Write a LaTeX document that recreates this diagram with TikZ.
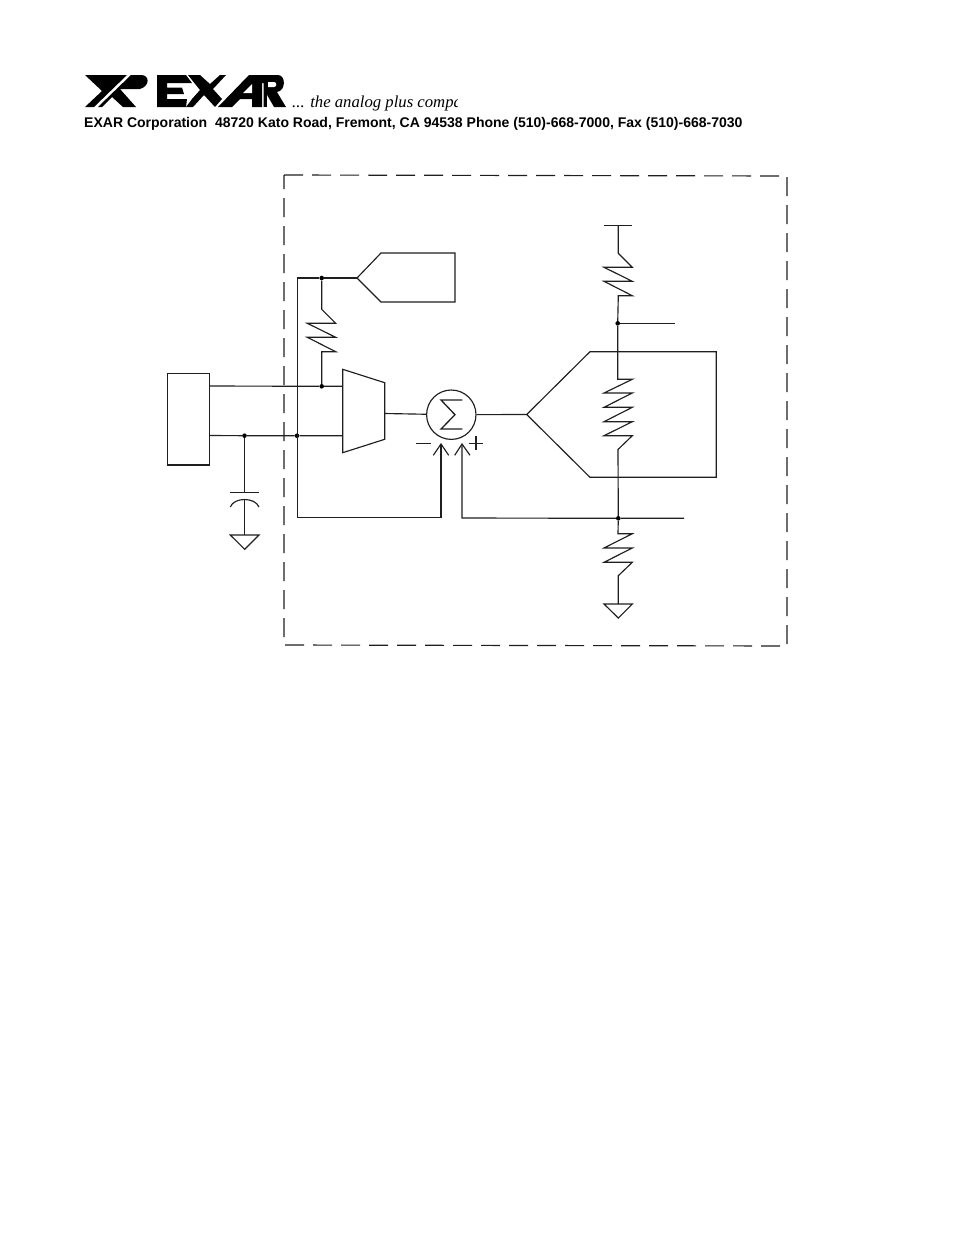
\documentclass[tikz,border=0pt]{standalone}
\usepackage{fontspec}
\setmainfont{Liberation Sans}
\newfontfamily\tagfont{Liberation Serif}
\tikzset{
  wire/.style={line width=1.15pt,black!88,line join=miter},
  dot/.style={circle,fill=black,inner sep=0pt,minimum size=4.6pt},
  logo/.style={fill=black,draw=none}
}
\begin{document}
\begin{tikzpicture}[x=1pt,y=-1pt]
\useasboundingbox (0,0) rectangle (954,1235);
% logo mark
\fill[logo] (85,75) -- (127,75) -- (94,107) -- (85,107) -- (102,91) -- cycle;
\fill[logo] (131,75) -- (141,75) .. controls (150,75) and (150,86) .. (140,89) -- (120,89) -- (136,107) -- (123,107) -- (112,97) -- (102,107) -- (98,107) -- cycle;
% E
\fill[logo] (157,75) -- (186,75) -- (192,83) -- (167,83) -- (167,87.5) -- (182,87.5) -- (184,94) -- (167,94) -- (167,99) -- (187,99) -- (186,107) -- (157,107) -- cycle;
% X
\fill[logo] (188,75) -- (200,75) -- (210,84) -- (220,75) -- (226,75) -- (213,89) -- (222,99) -- (215,107) -- (204,95) -- (193,107) -- (186,107) -- (192,99) -- (200,90) -- cycle;
% A
\fill[logo] (218,107) -- (249,75) -- (262,75) -- (262,107) -- (252,107) -- (252,99) -- (240,99) -- (232,107) -- cycle;
\fill[white] (243,93) -- (252,84) -- (252,93) -- cycle;
% R
\fill[logo] (258,75) -- (278,75) .. controls (286,75) and (286,91) .. (277,92) -- (286,107) -- (274,107) -- (266,93) -- (264,93) -- (264,107) -- (263.5,107) -- (263.5,83) -- (258,83) -- cycle;
\fill[logo] (264,82) rectangle (267,107);
\fill[white] (268,82) -- (274,82) .. controls (277,82) and (277,87) .. (274,87) -- (268,87) -- cycle;
\begin{scope}
\clip (285,85) rectangle (457,116);
\node[anchor=base west,inner sep=0pt] (tag) at (292,107) {\tagfont\itshape\fontsize{16.7}{18}\selectfont ... the analog plus compa};
\end{scope}
\node[anchor=base west,inner sep=0pt] (addr) at (84,127) {\fontsize{14.02}{16}\selectfont\bfseries EXAR Corporation\ \ 48720 Kato Road, Fremont, CA 94538 Phone (510)-668-7000, Fax (510)-668-7030};
% dashed boundary
\draw[wire,dash pattern=on 19pt off 9pt] (284,175) -- (787,176) -- (787,646) -- (284,645) -- cycle;
% sensor box
\coordinate (boxT) at (209.7,386);
\coordinate (boxB) at (209.7,435.5);
\node[draw,wire,minimum width=42.4pt,minimum height=91.3pt,inner sep=0pt] (box) at (188.5,419.4) {};
% top-left driver
\coordinate (drvL) at (357,278);
\draw[wire] (drvL) -- (381,253) -- (455,253) -- (455,302) -- (381,302) -- cycle;
% nodes
\node[dot] (d1) at (321.7,278) {};
\node[dot] (d2) at (321.7,386.3) {};
\node[dot] (d3) at (244.5,435.7) {};
\node[dot] (d4) at (297,435.7) {};
\coordinate (tl) at (297.3,278);
\draw[wire] (tl) -- (d1) -- (drvL);
\draw[wire] (tl) -- (297.3,517.7) -- (441,517.7) -- (441,445);
% R1
\draw[wire] (d1) -- (321.7,309.3) -- (335.7,323.3) -- (307.3,323.3) -- (335.7,337.3) -- (307.3,337.3) -- (335.7,351.7) -- (321.7,351.7) -- (d2);
% mux
\draw[wire] (342.7,369.3) -- (384.7,382.7) -- (384.7,439.3) -- (342.7,452.7) -- cycle;
\draw[wire] (boxT) -- (d2) -- (342.7,386.3);
\draw[wire] (boxB) -- (d3) -- (d4) -- (342.7,435.7);
% cap
\coordinate (capT) at (244.5,492.7);
\draw[wire] (d3) -- (capT);
\draw[wire] (230.3,492.7) -- (259,492.7);
\draw[wire] (230.3,507) .. controls (234,497) and (255,497) .. (259,507);
\draw[wire] (244.5,499.5) -- (244.5,535);
\draw[wire] (230.3,535) -- (259,535) -- (244.7,549.3) -- cycle;
% sum
\node[draw,wire,circle,minimum size=49.4pt,inner sep=0pt] (sum) at (451.3,414.7) {};
\draw[line width=1.3pt,black!88] (462.3,400) -- (441,400) -- (455,414.7) -- (441,429) -- (462.3,429);
\draw[wire] (384.7,413.5) -- (sum);
% +/-
\draw[wire] (416,443.3) -- (430.7,443.3);
\draw[wire] (468.7,443.3) -- (483.3,443.3);
\draw[wire] (476,435.7) -- (476,450);
% arrows
\draw[wire] (433.3,455.3) -- (441,444) -- (448.7,455.3);
\draw[wire] (454.7,455.3) -- (462,444) -- (470,455.3);
\node[dot] (d6) at (618.3,518.3) {};
\draw[wire] (462,445) -- (462,518) -- (d6) -- (684,518.3);
% amp
\coordinate (ampL) at (526.7,414.5);
\draw[wire] (ampL) -- (590,351.7) -- (716.3,351.7) -- (716.3,477.3) -- (590,477.3) -- cycle;
\draw[wire] (sum) -- (ampL);
% right ladder
\node[dot] (d5) at (617.7,323.3) {};
\draw[wire] (604,225.3) -- (632.3,225.3);
\draw[wire] (618.3,225.3) -- (618.3,253.3) -- (632.3,267.3) -- (604,267.3) -- (632.3,281.3) -- (604,281.3) -- (632.3,295.7) -- (618.3,295.7) -- (d5);
\draw[wire] (d5) -- (674.5,323.3);
\draw[wire] (d5) -- (617.7,379.3) -- (632.3,379.3) -- (604,393) -- (632.3,393) -- (604,407.3) -- (632.3,407.3) -- (604,421.7) -- (632.3,421.7) -- (604,435.7) -- (632.3,435.7) -- (618,449.5) -- (d6);
\draw[wire] (d6) -- (618,533.7) -- (632.3,533.7) -- (604,548) -- (632.3,548) -- (604,562.3) -- (632.3,562.3) -- (618.3,575.7) -- (618.3,604);
\draw[wire] (604,604) -- (632.3,604) -- (618.3,618) -- cycle;
\end{tikzpicture}
\end{document}
